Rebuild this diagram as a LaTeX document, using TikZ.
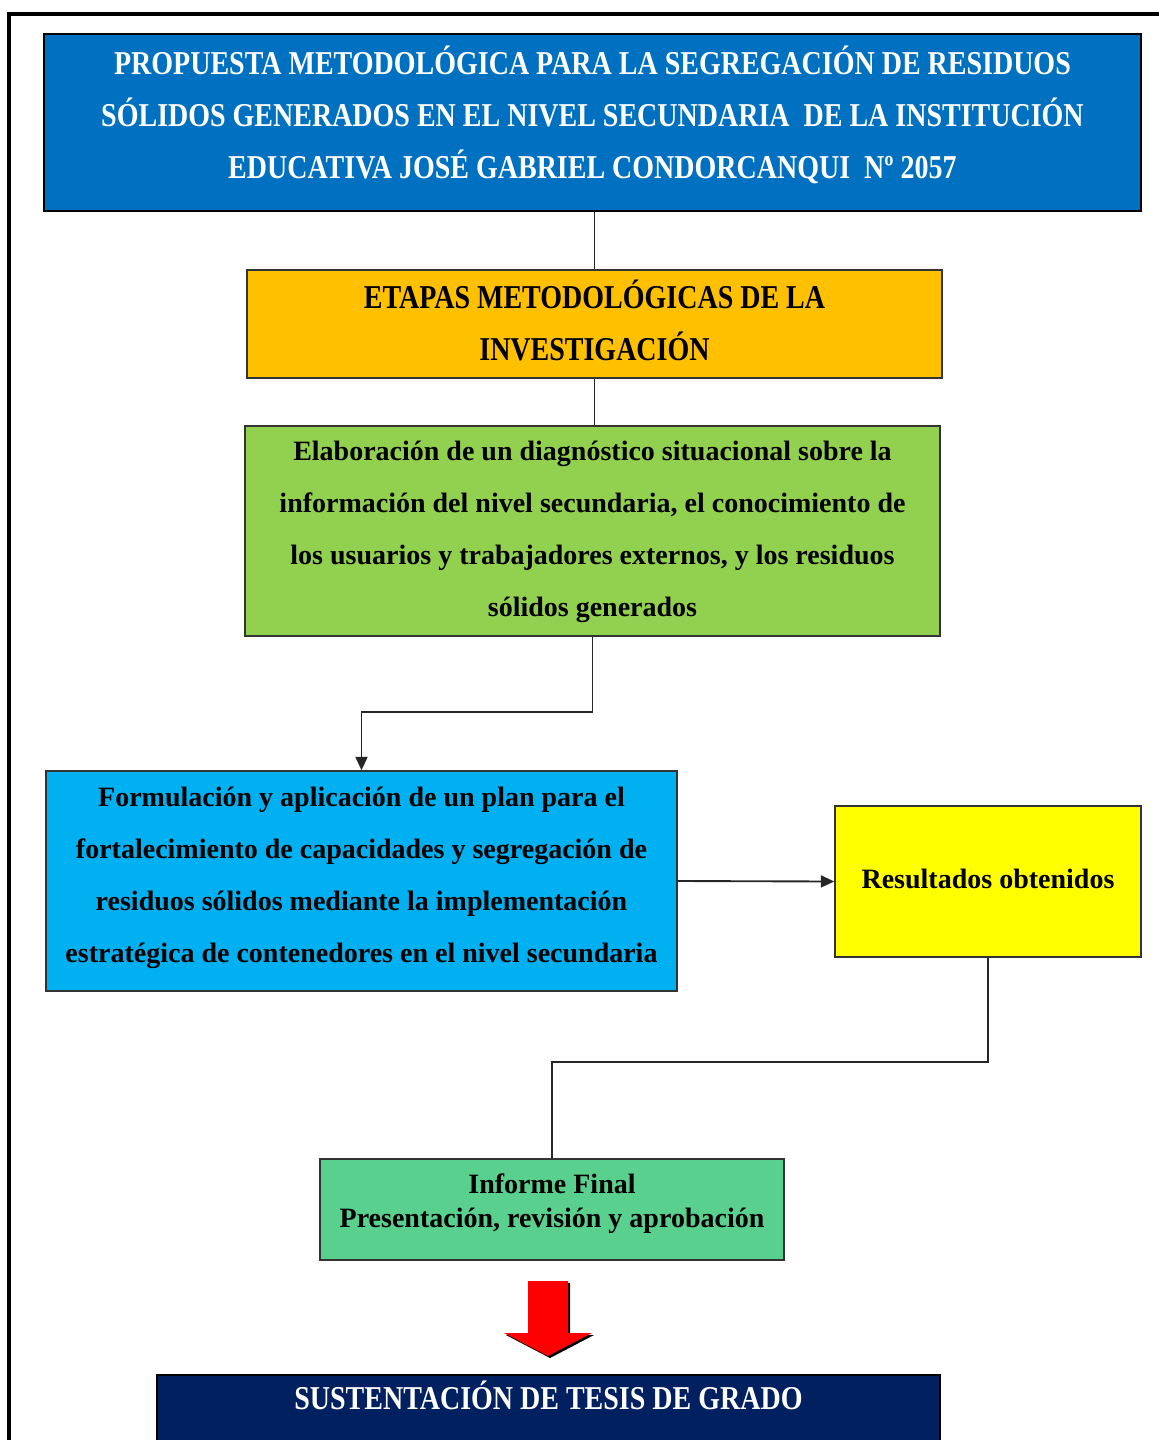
\documentclass[tikz,border=0pt]{standalone}
\usepackage{fontspec}
\setmainfont{Liberation Serif}
\newfontfamily\capsfont[FakeStretch=0.84]{Liberation Serif Bold}
\usetikzlibrary{arrows.meta}
\definecolor{titleblue}{RGB}{0,112,192}
\definecolor{etapasorange}{RGB}{255,192,0}
\definecolor{diaggreen}{RGB}{146,208,80}
\definecolor{planblue}{RGB}{0,176,240}
\definecolor{resyellow}{RGB}{255,255,0}
\definecolor{infgreen}{RGB}{90,208,143}
\definecolor{navy}{RGB}{0,32,96}
\definecolor{arrowred}{RGB}{255,0,0}
\begin{document}
\begin{tikzpicture}[x=0.75pt,y=-0.75pt,
  box/.style={draw=black!80, line width=1.2pt, inner sep=0pt},
  txt/.style={inner sep=0pt, align=center},
  conn/.style={draw=black!85, line width=1.4pt},
  tip/.style={-{Triangle[length=10pt,width=9pt]}},
  bodytext/.style={font=\bfseries\fontsize{21}{39}\selectfont},
  capstext/.style={font=\capsfont\fontsize{25}{39}\selectfont}
]
\useasboundingbox (0,0) rectangle (1159,1440);
% outer frame
\draw[line width=2.3pt] (1159,14) -- (9,14) -- (9,1445);

% boxes
\node[box, draw=black, line width=2.2pt, fill=titleblue,
  minimum width=822.75pt, minimum height=132.75pt] (title) at (592.5,122.5) {};
\node[box, fill=etapasorange, minimum width=521.25pt, minimum height=81pt] (etapas) at (594.5,324) {};
\node[box, fill=diaggreen, minimum width=521.25pt, minimum height=157.5pt] (diag) at (592.5,531) {};
\node[box, fill=planblue, minimum width=473.25pt, minimum height=165pt] (plan) at (361.5,881) {};
\node[box, fill=resyellow, minimum width=229.5pt, minimum height=113.25pt] (res) at (988,881.5) {};
\node[box, fill=infgreen, minimum width=348pt, minimum height=75.75pt] (inf) at (552,1209.5) {};
\node[box, draw=black, fill=navy, anchor=north,
  minimum width=587.25pt, minimum height=60pt] (sust) at (548.5,1374) {};

% texts
\node[txt, text=white, capstext, yshift=6pt] (titletext) at (title.center)
  {PROPUESTA METODOLÓGICA PARA LA SEGREGACIÓN DE RESIDUOS\\
   SÓLIDOS GENERADOS EN EL NIVEL SECUNDARIA\ \ DE LA INSTITUCIÓN\\
   EDUCATIVA JOSÉ GABRIEL CONDORCANQUI\ \ Nº 2057};
\node[txt, capstext, yshift=3pt] (etapastext) at (etapas.center)
  {ETAPAS METODOLÓGICAS DE LA\\ INVESTIGACIÓN};
\node[txt, bodytext, yshift=-1pt] (diagtext) at (diag.center)
  {Elaboración de un diagnóstico situacional sobre la\\
   información del nivel secundaria, el conocimiento de\\
   los usuarios y trabajadores externos, y los residuos\\
   sólidos generados};
\node[txt, bodytext, yshift=2pt] (plantext) at (plan.center)
  {Formulación y aplicación de un plan para el\\
   fortalecimiento de capacidades y segregación de\\
   residuos sólidos mediante la implementación\\
   estratégica de contenedores en el nivel secundaria};
\node[txt, bodytext, yshift=2pt] (restext) at (res.center)
  {Resultados obtenidos};
\node[txt, font=\bfseries\fontsize{21}{26}\selectfont, yshift=4.5pt] (inftext) at (inf.center)
  {Informe Final\\ Presentación, revisión y aprobación};
\node[txt, text=white, capstext, yshift=2pt] (susttext) at (548.5,1398)
  {SUSTENTACIÓN DE TESIS DE GRADO};

% connectors
\draw[conn] (etapas.north) -- (etapas.north |- title.south);
\draw[conn] (etapas.south) -- (etapas.south |- diag.north);
\draw[conn, tip] (diag.south) -- ++(0,75) -| (plan.north);
\draw[conn, tip] (plan.east) -- (res.west);
\draw[conn] (res.south) -- ++(0,104) -| (inf.north);

% red block arrow
\fill[black] (530,1283) -- (570,1283) -- (570,1335) -- (594,1335) -- (550,1358)
  -- (506,1335) -- (530,1335) -- cycle;
\fill[arrowred] (528,1281) -- (568,1281) -- (568,1333) -- (592,1333) -- (548,1356)
  -- (504,1333) -- (528,1333) -- cycle;
\end{tikzpicture}
\end{document}
